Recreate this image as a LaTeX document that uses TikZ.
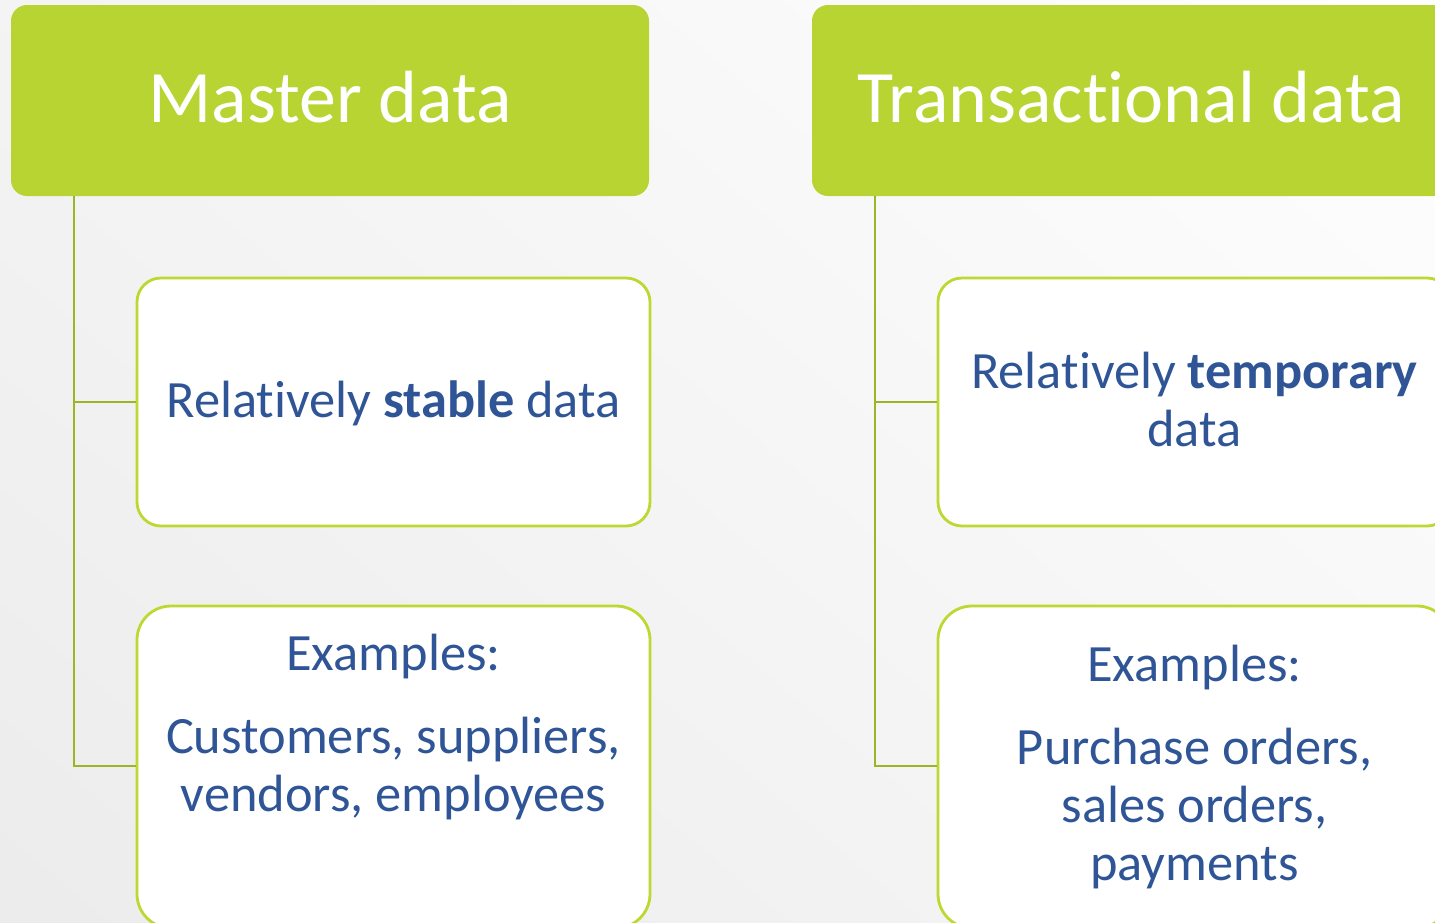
\documentclass[tikz,border=0pt]{standalone}
\usepackage{fontspec}
\setmainfont{Carlito}[Ligatures={NoCommon}]
\definecolor{hdrgreen}{HTML}{B8D432}
\definecolor{linegreen}{HTML}{9AB526}
\definecolor{boxgreen}{HTML}{BDD831}
\definecolor{txtblue}{HTML}{2F5597}
\definecolor{bggray}{HTML}{EBEBEB}
\tikzset{
  hdr/.style={fill=hdrgreen, draw=none, rounded corners=8pt, inner sep=0pt},
  hdrtext/.style={text=white, font=\fontsize{37}{40}\selectfont, inner sep=0pt},
  childbox/.style={fill=white, draw=boxgreen, line width=1.4pt, inner sep=0pt},
  conn/.style={draw=linegreen, line width=1.3pt},
  ctext/.style={text=txtblue, font=\fontsize{26.2}{30}\selectfont, align=center, inner sep=0pt}
}
\begin{document}
\begin{tikzpicture}[x=0.5pt,y=-0.5pt]
\useasboundingbox (0,0) rectangle (1435,922);
\clip (0,0) rectangle (1435,922);
\shade[top color=white, bottom color=bggray, shading angle=-40] (-300,-300) rectangle (1735,1222);
% headers
\node[hdr, minimum width=319pt, minimum height=95.5pt] (mh) at (330,100.5) {};
\node[hdr, minimum width=319pt, minimum height=95.5pt] (th) at (1131,100.5) {};
\node[hdrtext, anchor=base] (mht) at (330,122) {Master data};
\node[hdrtext, anchor=base] (tht) at (1131,122) {Transactional data};
% child boxes
\node[childbox, rounded corners=12pt, minimum width=256.5pt, minimum height=124pt] (m1) at (393.5,402) {};
\node[childbox, rounded corners=17pt, minimum width=256.5pt, minimum height=161pt] (m2) at (393.5,767) {};
\node[childbox, rounded corners=12pt, minimum width=256.5pt, minimum height=124pt] (t1) at (1194.5,402) {};
\node[childbox, rounded corners=17pt, minimum width=256.5pt, minimum height=161pt] (t2) at (1194.5,767) {};
% connectors
\draw[conn] (mh.south west -| 74,0) -- (74,766) -- (m2.west |- 0,766);
\draw[conn] (74,402) -- (m1.west);
\draw[conn] (th.south west -| 875,0) -- (875,766) -- (t2.west |- 0,766);
\draw[conn] (875,402) -- (t1.west);
% texts
\node[ctext, anchor=base] (m1t) at (393.5,417) {Relatively \textbf{stable} data};
\node[ctext, anchor=base] (m2a) at (393.5,670) {Examples:};
\node[ctext, anchor=base] (m2b) at (393.5,753) {Customers, suppliers,};
\node[ctext, anchor=base] (m2c) at (393.5,811) {vendors, employees};
\node[ctext, anchor=base] (t1a) at (1194.5,388) {Relatively \textbf{temporary}};
\node[ctext, anchor=base] (t1b) at (1194.5,446) {data};
\node[ctext, anchor=base] (t2a) at (1194.5,681) {Examples:};
\node[ctext, anchor=base] (t2b) at (1194.5,764) {Purchase orders,};
\node[ctext, anchor=base] (t2c) at (1194.5,822) {sales orders,};
\node[ctext, anchor=base] (t2d) at (1194.5,880) {payments};
\end{tikzpicture}
\end{document}
